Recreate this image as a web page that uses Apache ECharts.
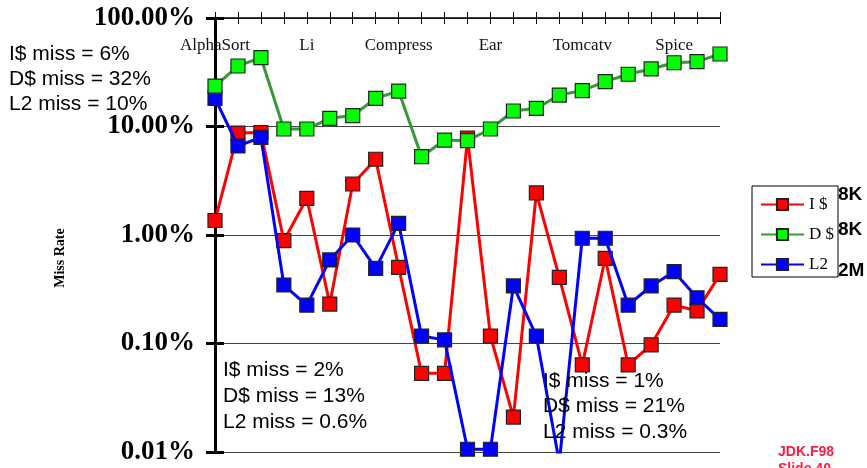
<!DOCTYPE html>
<html>
<head>
<meta charset="utf-8">
<script src="https://cdn.jsdelivr.net/npm/echarts@6/dist/echarts.min.js"></script>
<style>html,body{margin:0;padding:0;background:#fff}#c{width:867px;height:468px}</style>
</head>
<body>
<div id="c"></div>
<script>
// 23 measurement points along the x axis; benchmark names shown every 4th point
const pointIds = ['p1','p2','p3','p4','p5','p6','p7','p8','p9','p10','p11','p12','p13','p14','p15','p16','p17','p18','p19','p20','p21','p22','p23'];
const benchmarkLabels = {0:'AlphaSort', 4:'Li', 8:'Compress', 12:'Ear', 16:'Tomcatv', 20:'Spice'};
const yTickLabels = ['0.01%','0.10%','1.00%','10.00%','100.00%'];

// miss rates in percent
const iCache = [1.36, 8.7, 8.8, 0.886, 2.18, 0.231, 2.95, 4.99, 0.504, 0.0531, 0.0531, 7.8, 0.117, 0.021, 2.45, 0.407, 0.0634, 0.61, 0.0634, 0.097, 0.226, 0.2, 0.434];
const dCache = [23.6, 36.1, 43.1, 9.48, 9.48, 11.9, 12.6, 18.2, 21.2, 5.27, 7.5, 7.4, 9.48, 13.9, 14.7, 19.5, 21.4, 25.9, 30.3, 33.9, 38.7, 39.6, 46.6];
const l2Cache = [18.2, 6.61, 7.95, 0.346, 0.226, 0.589, 1.0, 0.493, 1.28, 0.117, 0.108, 0.0106, 0.0106, 0.339, 0.117, 0.008, 0.933, 0.933, 0.226, 0.339, 0.459, 0.264, 0.167];

const legendSizes = ['8K', '8K', '2M'];
const noteLeft = ['I$ miss = 6%', 'D$ miss = 32%', 'L2 miss = 10%'];
const noteMid = ['I$ miss = 2%', 'D$ miss = 13%', 'L2 miss = 0.6%'];
const noteRight = ['I$ miss = 1%', 'D$ miss = 21%', 'L2 miss = 0.3%'];

const chart = echarts.init(document.getElementById('c'), null, {renderer: 'canvas'});
const serif = 'Liberation Serif, Times New Roman, serif';
const sans = 'Liberation Sans, Arial, sans-serif';

function logLabel(v) {
  const e = Math.round(Math.log10(v)) + 2;
  return yTickLabels[e] !== undefined ? yTickLabels[e] : '';
}

const markerStyle = (c) => ({color: c, borderColor: '#222', borderWidth: 1.2});

function noteBlock(lines, x, y0, gap) {
  return lines.map((t, i) => ({
    type: 'text', x: x, y: y0 + i * gap, z: 10,
    style: {text: t, font: '21px ' + sans, fill: '#000', verticalAlign: 'middle'}
  }));
}

chart.setOption({
  animation: false,
  backgroundColor: '#fff',
  grid: {left: 215, right: 147, top: 18, bottom: 16},
  xAxis: [{
    type: 'category', data: pointIds, position: 'top', boundaryGap: false,
    axisLine: {show: true, lineStyle: {color: '#000', width: 1.5}},
    axisTick: {show: true, interval: 0, length: 6, lineStyle: {color: '#000', width: 1}},
    axisLabel: {
      show: true, inside: true, interval: 0, margin: 19,
      formatter: (v, i) => benchmarkLabels[i] || '',
      fontFamily: serif, fontSize: 17, color: '#111'
    },
    splitLine: {show: false}
  }, {
    type: 'category', data: pointIds, position: 'top', boundaryGap: false,
    axisLine: {show: false},
    axisTick: {show: true, inside: true, interval: 0, length: 6, lineStyle: {color: '#000', width: 1}},
    axisLabel: {show: false},
    splitLine: {show: false}
  }],
  yAxis: [{
    type: 'log', logBase: 10, min: 0.01, max: 100,
    axisLine: {show: true, lineStyle: {color: '#000', width: 3}},
    axisTick: {show: true, length: 9, lineStyle: {color: '#000', width: 3}},
    axisLabel: {
      formatter: logLabel, margin: 20,
      fontFamily: serif, fontWeight: 'bold', fontSize: 27, color: '#000'
    },
    splitLine: {show: true, lineStyle: {color: '#444', width: 1}},
    minorTick: {show: false}
  }, {
    type: 'log', logBase: 10, min: 0.01, max: 100, position: 'left',
    axisLine: {show: false},
    axisTick: {show: true, inside: true, length: 9, lineStyle: {color: '#000', width: 3}},
    axisLabel: {show: false},
    splitLine: {show: false}
  }],
  legend: {
    orient: 'vertical', left: 752, top: 186,
    padding: [10, 4, 4, 8], itemGap: 13, itemWidth: 43, itemHeight: 14,
    borderColor: '#000', borderWidth: 1, backgroundColor: '#fff',
    textStyle: {fontFamily: serif, fontSize: 17, color: '#000', lineHeight: 17},
    data: ['I $', 'D $', 'L2']
  },
  series: [{
    name: 'I $', type: 'line', data: iCache, z: 2,
    symbol: 'rect', symbolSize: 14,
    lineStyle: {color: '#ff0000', width: 3},
    itemStyle: markerStyle('#ff0000')
  }, {
    name: 'D $', type: 'line', data: dCache, z: 4,
    symbol: 'rect', symbolSize: 14,
    lineStyle: {color: '#359a35', width: 3},
    itemStyle: markerStyle('#00ff00')
  }, {
    name: 'L2', type: 'line', data: l2Cache, z: 3,
    symbol: 'rect', symbolSize: 14,
    lineStyle: {color: '#0000ff', width: 3},
    itemStyle: markerStyle('#0000ff')
  }],
  graphic: [
    {type: 'text', x: 60, y: 258, rotation: Math.PI / 2,
      style: {text: 'Miss Rate', font: 'bold 14px ' + serif, fill: '#000', align: 'center', verticalAlign: 'middle'}},
    ...noteBlock(noteLeft, 9, 54, 25.3),
    ...noteBlock(noteMid, 223, 370.5, 26),
    ...noteBlock(noteRight, 543, 381, 25.7),
    {type: 'text', x: 838, y: 195, style: {text: legendSizes[0], font: 'bold 19px ' + sans, fill: '#000', verticalAlign: 'middle'}},
    {type: 'text', x: 838, y: 230, style: {text: legendSizes[1], font: 'bold 19px ' + sans, fill: '#000', verticalAlign: 'middle'}},
    {type: 'text', x: 838, y: 271, style: {text: legendSizes[2], font: 'bold 19px ' + sans, fill: '#000', verticalAlign: 'middle'}},
    {type: 'text', x: 778, y: 452, style: {text: 'JDK.F98', font: 'bold 14px ' + sans, fill: '#ff1a40', verticalAlign: 'middle'}},
    {type: 'text', x: 778, y: 469, style: {text: 'Slide 40', font: 'bold 14px ' + sans, fill: '#ff1a40', verticalAlign: 'middle'}}
  ]
});
</script>
</body>
</html>
